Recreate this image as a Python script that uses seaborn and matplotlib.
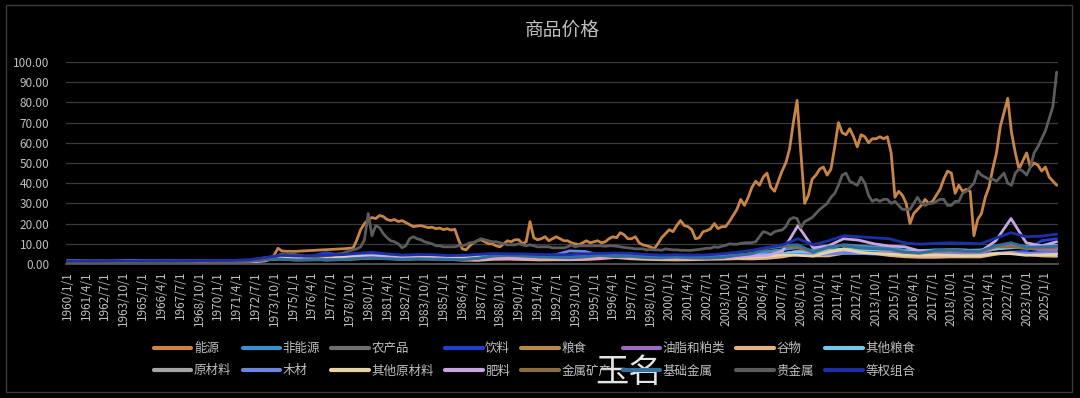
import pandas as pd
import matplotlib
matplotlib.use('Agg')
import matplotlib.pyplot as plt
from matplotlib.patches import Rectangle
import seaborn as sns

# 系列名称 / 颜色
names = ['能源', '非能源', '农产品', '饮料', '粮食', '油脂和粕类', '谷物', '其他粮食',
         '原材料', '木材', '其他原材料', '肥料', '金属矿产', '基础金属', '贵金属', '等权组合']
colors = ['#c98545', '#3a8fcf', '#6e6e6e', '#2140d0', '#b8894f', '#9b6bc4', '#e3b283', '#7ac6ea',
          '#a5a5a5', '#6d86e2', '#e8d2a6', '#c9a6e3', '#8c6d3f', '#2f6f9e', '#5c5c5c', '#1a2fa8']

# 能源 / 贵金属: 1960-1971 每年一个点, 1972/1 起按季度
early_years = list(range(1960, 1972))
energy_early = [1.4, 1.4, 1.4, 1.4, 1.3, 1.3, 1.3, 1.3, 1.3, 1.3, 1.3, 1.5]
precious_early = [1.0, 1.0, 1.0, 1.0, 1.0, 1.0, 1.0, 1.0, 1.2, 1.3, 1.1, 1.2]

energy_q = [
    1.6, 1.6, 1.7, 1.7, 1.8, 2.0, 2.2, 4.5,          # 1972-1973
    7.8, 6.5, 6.3, 6.3, 6.2, 6.3, 6.4, 6.5,          # 1974-1975
    6.6, 6.7, 6.8, 6.9, 7.0, 7.1, 7.2, 7.3,          # 1976-1977
    7.4, 7.5, 7.6, 7.8, 8.0, 12.0, 17.0, 20.0,       # 1978-1979
    22.0, 23.0, 22.5, 24.0, 23.5, 22.0, 21.5, 22.0,  # 1980-1981
    21.0, 21.5, 20.5, 19.5, 18.5, 18.8, 19.0, 18.5,  # 1982-1983
    18.0, 18.2, 17.5, 17.8, 17.0, 17.5, 16.8, 17.2,  # 1984-1985
    12.0, 7.5, 7.0, 9.0, 10.5, 11.5, 12.0, 11.0,     # 1986-1987
    10.0, 10.0, 9.0, 8.5, 10.0, 11.5, 11.0, 12.0,    # 1988-1989
    12.0, 10.0, 11.0, 21.0, 13.0, 12.0, 12.5, 13.5,  # 1990-1991
    11.5, 12.5, 13.5, 12.5, 11.5, 11.5, 10.5, 10.0,  # 1992-1993
    9.5, 10.5, 11.5, 10.5, 11.0, 11.5, 10.5, 11.0,   # 1994-1995
    12.5, 13.5, 13.0, 15.5, 14.5, 12.5, 12.5, 13.5,  # 1996-1997
    10.5, 9.5, 9.0, 8.5, 7.5, 10.0, 13.0, 15.0,      # 1998-1999
    17.0, 16.0, 19.0, 21.5, 19.0, 18.5, 17.0, 12.5,  # 2000-2001
    13.0, 16.0, 16.5, 17.5, 20.0, 17.5, 18.5, 18.5,  # 2002-2003
    21.0, 24.0, 27.0, 32.0, 29.0, 33.0, 38.0, 41.0,  # 2004-2005
    39.0, 43.0, 45.0, 38.0, 36.0, 41.0, 46.0, 50.0,  # 2006-2007
    57.0, 70.0, 81.0, 55.0, 30.0, 34.0, 42.0, 44.0,  # 2008-2009
    47.0, 48.0, 44.0, 47.0, 58.0, 70.0, 65.0, 64.0,  # 2010-2011
    67.0, 63.0, 58.0, 64.0, 63.0, 60.0, 62.0, 62.0,  # 2012-2013
    63.0, 62.0, 63.0, 55.0, 33.0, 36.0, 34.0, 30.0,  # 2014-2015
    20.0, 25.0, 27.0, 29.0, 32.0, 30.0, 31.0, 34.0,  # 2016-2017
    37.0, 42.0, 46.0, 45.0, 35.0, 39.0, 36.0, 37.0,  # 2018-2019
    36.0, 14.0, 22.0, 25.0, 33.0, 38.0, 47.0, 55.0,  # 2020-2021
    68.0, 75.0, 82.0, 65.0, 55.0, 47.0, 51.0, 55.0,  # 2022-2023
    48.0, 50.0, 49.0, 46.0, 48.0, 43.0, 41.0, 39.0,  # 2024-2025
]
precious_q = [
    1.4, 1.6, 1.9, 1.9, 2.3, 2.8, 3.5, 3.2,
    4.0, 5.0, 4.5, 5.0, 5.0, 4.5, 4.3, 3.8,
    3.8, 3.7, 3.5, 3.8, 4.0, 4.2, 4.2, 4.6,
    5.0, 5.2, 5.8, 6.5, 7.0, 7.5, 8.5, 12.0,
    25.0, 14.0, 19.0, 18.0, 15.0, 13.0, 11.5, 11.0,
    10.0, 8.0, 9.0, 12.5, 13.5, 12.5, 12.0, 11.0,
    10.5, 10.0, 9.0, 9.0, 8.5, 8.5, 8.5, 8.5,
    9.0, 9.0, 9.5, 10.5, 10.5, 11.5, 12.5, 12.0,
    11.5, 11.0, 11.0, 10.5, 10.0, 9.5, 9.5, 9.5,
    10.0, 9.5, 9.0, 9.5, 9.0, 8.5, 8.5, 8.5,
    8.5, 8.0, 8.0, 8.0, 8.0, 8.5, 9.5, 8.5,
    9.0, 9.0, 9.0, 9.0, 9.0, 9.0, 9.0, 8.8,
    9.0, 9.0, 8.8, 8.5, 8.2, 8.0, 7.8, 7.5,
    7.5, 7.5, 7.0, 7.2, 7.0, 7.0, 6.8, 7.5,
    7.2, 7.0, 7.0, 6.8, 6.8, 6.7, 6.8, 7.0,
    7.2, 7.5, 7.8, 7.8, 8.5, 8.2, 8.8, 9.2,
    10.0, 9.8, 9.8, 10.2, 10.5, 10.5, 10.6, 11.0,
    13.5, 16.0, 15.5, 14.5, 16.0, 16.5, 16.8, 18.5,
    22.0, 23.0, 22.5, 18.0, 21.0, 22.0, 23.0, 25.0,
    27.0, 28.5, 30.0, 33.0, 35.0, 39.0, 44.0, 45.0,
    41.0, 40.0, 39.0, 43.0, 40.0, 34.0, 31.0, 32.0,
    31.0, 32.0, 32.0, 30.0, 31.0, 29.0, 27.0, 27.0,
    27.0, 30.0, 33.0, 30.0, 29.0, 30.0, 30.0, 31.0,
    32.0, 32.0, 29.0, 29.0, 31.0, 31.0, 35.0, 36.0,
    38.0, 40.0, 46.0, 44.0, 43.0, 42.0, 42.0, 41.0,
    43.0, 45.0, 40.0, 39.0, 45.0, 47.0, 46.0, 44.0,
    48.0, 55.0, 58.0, 62.0, 66.0, 72.0, 78.0, 95.0,
]

# 其他系列: 1960-2025 每年一个点
years = list(range(1960, 2026))
nonenergy = [1.3, 1.3, 1.3, 1.3, 1.4, 1.4, 1.4, 1.4, 1.4, 1.5,
             1.5, 1.5, 1.7, 2.6, 3.4, 3.0, 3.1, 3.4, 3.4, 3.8,
             4.1, 3.7, 3.3, 3.5, 3.5, 3.2, 3.2, 3.6, 4.1, 4.1,
             4.0, 3.8, 3.7, 3.6, 4.0, 4.4, 4.3, 4.3, 3.8, 3.5,
             3.6, 3.4, 3.5, 3.8, 4.5, 5.1, 6.2, 7.1, 8.1, 6.6,
             8.0, 9.5, 8.9, 8.5, 8.1, 6.8, 6.6, 7.0, 7.1, 6.8,
             6.8, 8.9, 9.6, 8.6, 8.9, 9.2]
agri = [1.3, 1.3, 1.3, 1.3, 1.4, 1.4, 1.4, 1.4, 1.3, 1.4,
        1.4, 1.4, 1.7, 2.6, 3.4, 3.0, 3.1, 3.6, 3.4, 3.8,
        4.2, 3.8, 3.2, 3.5, 3.6, 3.1, 3.0, 3.1, 3.6, 3.6,
        3.5, 3.4, 3.4, 3.4, 3.9, 4.2, 4.2, 4.2, 3.7, 3.2,
        3.1, 3.0, 3.2, 3.4, 3.8, 3.9, 4.3, 5.1, 6.2, 5.6,
        6.2, 7.4, 7.5, 7.1, 6.8, 5.8, 5.9, 5.9, 5.8, 5.8,
        6.0, 7.4, 8.5, 8.1, 8.6, 8.3]
beverage = [1.2, 1.2, 1.2, 1.2, 1.4, 1.4, 1.4, 1.3, 1.3, 1.4,
            1.6, 1.5, 1.6, 2.0, 2.4, 2.3, 3.8, 5.6, 4.4, 4.6,
            4.4, 3.6, 3.5, 3.6, 4.0, 3.7, 4.4, 3.3, 3.2, 2.9,
            2.5, 2.4, 2.2, 2.3, 3.4, 3.6, 3.2, 4.3, 3.8, 3.1,
            2.8, 2.4, 2.6, 2.8, 3.0, 3.5, 3.7, 4.1, 4.8, 4.9,
            5.4, 6.5, 5.4, 4.7, 5.3, 5.1, 4.9, 4.6, 4.4, 4.2,
            4.6, 5.3, 5.9, 6.5, 11.5, 12.5]
food = [1.3, 1.3, 1.3, 1.3, 1.4, 1.4, 1.4, 1.4, 1.3, 1.3,
        1.4, 1.4, 1.7, 2.7, 3.9, 3.2, 3.0, 3.0, 3.1, 3.5,
        4.0, 3.8, 3.0, 3.3, 3.4, 2.9, 2.7, 2.8, 3.4, 3.4,
        3.2, 3.2, 3.3, 3.2, 3.6, 3.9, 4.2, 3.9, 3.5, 3.0,
        3.0, 3.0, 3.2, 3.4, 3.8, 3.8, 4.1, 5.0, 6.4, 5.6,
        6.0, 7.3, 7.5, 7.2, 6.7, 5.5, 5.6, 5.7, 5.6, 5.6,
        5.9, 7.5, 8.8, 8.0, 7.8, 7.6]
oils = [1.3, 1.3, 1.3, 1.3, 1.3, 1.4, 1.4, 1.3, 1.3, 1.3,
        1.4, 1.4, 1.6, 2.9, 3.8, 2.9, 2.8, 3.3, 3.2, 3.6,
        3.5, 3.4, 2.8, 3.3, 3.6, 2.9, 2.3, 2.7, 3.3, 3.1,
        2.9, 3.0, 3.0, 3.1, 3.3, 3.6, 3.9, 3.8, 3.4, 2.6,
        2.5, 2.5, 2.7, 3.2, 3.6, 3.3, 3.5, 4.6, 6.4, 5.4,
        5.9, 7.3, 7.8, 7.1, 6.4, 5.0, 5.3, 5.3, 5.0, 4.9,
        5.5, 7.9, 9.4, 7.9, 6.9, 7.0]
grains = [1.1, 1.1, 1.1, 1.1, 1.2, 1.2, 1.2, 1.2, 1.1, 1.1,
          1.2, 1.1, 1.3, 2.3, 3.2, 2.8, 2.5, 2.0, 2.2, 2.5,
          2.9, 2.9, 2.3, 2.6, 2.6, 2.3, 1.9, 1.8, 2.3, 2.4,
          2.2, 2.0, 2.1, 2.1, 2.2, 2.6, 3.2, 2.6, 2.3, 2.1,
          2.0, 2.1, 2.3, 2.4, 2.6, 2.5, 2.8, 3.5, 5.0, 4.0,
          4.0, 5.3, 5.6, 5.2, 4.2, 3.6, 3.3, 3.3, 3.5, 3.5,
          3.5, 4.8, 5.8, 4.8, 4.0, 3.8]
otherfood = [1.2, 1.2, 1.2, 1.3, 1.5, 1.4, 1.3, 1.3, 1.3, 1.3,
             1.4, 1.4, 1.6, 2.2, 3.8, 3.8, 3.3, 3.2, 3.1, 3.4,
             4.6, 4.2, 3.4, 3.6, 3.6, 3.1, 3.1, 3.1, 3.7, 3.8,
             3.7, 3.6, 3.6, 3.5, 4.0, 4.2, 4.3, 4.2, 4.0, 3.6,
             3.5, 3.5, 3.6, 3.7, 4.0, 4.4, 4.8, 5.2, 6.0, 5.7,
             6.8, 7.4, 7.0, 6.8, 6.8, 6.3, 6.5, 6.8, 6.6, 6.7,
             6.9, 7.5, 8.0, 8.4, 9.1, 9.0]
rawmat = [1.4, 1.4, 1.3, 1.3, 1.4, 1.4, 1.4, 1.4, 1.4, 1.5,
          1.5, 1.5, 1.8, 2.7, 3.0, 2.7, 3.0, 3.3, 3.3, 3.9,
          4.1, 3.7, 3.2, 3.5, 3.5, 3.1, 3.1, 3.5, 3.9, 4.0,
          3.9, 3.7, 3.6, 3.5, 3.8, 4.3, 4.0, 3.9, 3.4, 3.3,
          3.4, 3.2, 3.2, 3.5, 3.9, 3.9, 4.3, 4.6, 4.6, 4.2,
          5.3, 6.3, 5.4, 5.2, 5.2, 4.7, 4.6, 4.7, 4.7, 4.6,
          4.6, 5.3, 5.3, 4.9, 5.1, 5.3]
timber = [1.1, 1.1, 1.1, 1.2, 1.2, 1.2, 1.2, 1.2, 1.3, 1.4,
          1.4, 1.4, 1.6, 2.4, 2.6, 2.4, 2.7, 3.0, 3.2, 4.1,
          4.6, 4.0, 3.3, 3.8, 3.6, 3.3, 3.4, 3.7, 4.1, 4.2,
          4.2, 4.1, 4.4, 6.5, 6.2, 4.5, 4.3, 4.2, 3.8, 3.9,
          3.9, 3.7, 3.7, 4.1, 4.3, 4.3, 4.6, 4.6, 4.8, 4.5,
          5.0, 5.3, 5.1, 5.2, 5.4, 4.8, 4.7, 4.8, 5.0, 4.9,
          4.8, 5.3, 5.5, 5.4, 5.6, 5.7]
otherraw = [1.5, 1.4, 1.4, 1.4, 1.5, 1.5, 1.5, 1.4, 1.3, 1.4,
            1.4, 1.4, 1.8, 3.0, 3.2, 2.8, 3.1, 3.4, 3.3, 3.6,
            3.8, 3.5, 3.0, 3.1, 3.3, 2.9, 2.8, 3.2, 3.7, 3.7,
            3.5, 3.2, 2.9, 2.6, 3.0, 3.8, 3.6, 3.3, 2.8, 2.6,
            2.7, 2.5, 2.6, 2.9, 3.2, 3.3, 3.8, 4.5, 4.3, 3.9,
            5.8, 7.4, 5.8, 5.2, 4.9, 4.4, 4.3, 4.5, 4.3, 4.1,
            4.2, 5.2, 5.1, 4.3, 4.5, 4.8]
fertilizer = [1.0, 1.0, 1.0, 1.0, 1.0, 1.1, 1.1, 1.0, 0.9, 0.8,
              0.8, 0.8, 0.9, 1.5, 4.5, 3.9, 2.5, 2.4, 2.5, 3.0,
              3.6, 3.4, 2.9, 2.8, 3.0, 2.6, 2.3, 2.4, 2.9, 3.0,
              2.9, 3.0, 2.8, 2.4, 2.7, 3.1, 3.4, 3.2, 3.1, 2.8,
              2.7, 2.7, 2.6, 2.9, 3.4, 4.0, 4.3, 6.5, 19.0, 8.0,
              9.0, 12.5, 11.8, 10.0, 8.9, 8.5, 6.5, 6.3, 7.0, 6.9,
              6.2, 11.5, 22.5, 10.5, 9.0, 11.0]
minerals = [1.0, 1.0, 1.0, 1.0, 1.2, 1.4, 1.5, 1.4, 1.5, 1.6,
            1.6, 1.4, 1.4, 2.0, 2.4, 2.0, 2.1, 2.2, 2.2, 2.7,
            3.0, 2.6, 2.3, 2.5, 2.4, 2.3, 2.2, 2.8, 3.9, 4.2,
            3.9, 3.5, 3.4, 3.1, 3.5, 4.2, 3.7, 3.8, 3.1, 3.0,
            3.4, 3.0, 2.9, 3.2, 4.3, 5.2, 7.8, 8.8, 8.2, 5.8,
            8.1, 9.2, 8.0, 7.6, 7.2, 5.7, 5.3, 6.3, 6.7, 6.2,
            6.2, 8.4, 8.5, 7.7, 7.9, 8.2]
basemetal = [1.0, 1.0, 1.0, 1.0, 1.2, 1.5, 1.6, 1.4, 1.5, 1.6,
             1.6, 1.4, 1.4, 2.1, 2.5, 1.9, 2.0, 2.1, 2.1, 2.7,
             3.0, 2.6, 2.3, 2.5, 2.3, 2.3, 2.2, 2.8, 4.1, 4.4,
             4.0, 3.5, 3.4, 3.1, 3.6, 4.4, 3.8, 3.9, 3.2, 3.1,
             3.6, 3.1, 3.0, 3.3, 4.3, 5.1, 8.0, 9.2, 9.5, 5.9,
             8.4, 9.3, 8.0, 7.6, 7.5, 6.0, 5.5, 6.7, 7.1, 6.5,
             6.4, 9.1, 10.5, 8.3, 8.5, 8.8]
equalw = [1.5, 1.5, 1.5, 1.6, 1.6, 1.6, 1.6, 1.6, 1.6, 1.7,
          1.8, 1.8, 2.2, 3.2, 4.3, 4.0, 4.1, 4.4, 4.6, 5.3,
          5.8, 5.0, 4.4, 4.7, 4.6, 4.2, 4.3, 4.8, 5.2, 5.0,
          5.0, 4.7, 4.6, 4.6, 5.0, 5.3, 5.4, 5.3, 4.7, 4.4,
          4.6, 4.4, 4.5, 5.0, 5.8, 6.8, 8.2, 9.5, 12.5, 9.5,
          11.5, 14.0, 13.5, 13.0, 12.5, 10.5, 9.8, 10.2, 10.5, 10.3,
          10.0, 12.8, 15.5, 13.5, 13.8, 14.8]

# 组装长表
main_dates = (list(pd.to_datetime([f'{y}-01-01' for y in early_years]))
              + list(pd.date_range('1972-01-01', '2025-10-01', freq='QS')))
yearly_dates = list(pd.date_range('1960-01-01', '2025-10-01', periods=len(years)))

series = {
    '能源': (main_dates, energy_early + energy_q),
    '非能源': (yearly_dates, nonenergy),
    '农产品': (yearly_dates, agri),
    '饮料': (yearly_dates, beverage),
    '粮食': (yearly_dates, food),
    '油脂和粕类': (yearly_dates, oils),
    '谷物': (yearly_dates, grains),
    '其他粮食': (yearly_dates, otherfood),
    '原材料': (yearly_dates, rawmat),
    '木材': (yearly_dates, timber),
    '其他原材料': (yearly_dates, otherraw),
    '肥料': (yearly_dates, fertilizer),
    '金属矿产': (yearly_dates, minerals),
    '基础金属': (yearly_dates, basemetal),
    '贵金属': (main_dates, precious_early + precious_q),
    '等权组合': (yearly_dates, equalw),
}
frames = []
for name, (d, v) in series.items():
    frames.append(pd.DataFrame({'date': d, 'value': v, 'series': name}))
df = pd.concat(frames, ignore_index=True)

sns.set_theme(style='dark')
plt.rcParams['font.family'] = ['Noto Sans CJK SC', 'DejaVu Sans']
txt = '#bfbfbf'

fig = plt.figure(figsize=(10.8, 3.98), dpi=100, facecolor='black')
ax = fig.add_axes([0.0611, 0.3367, 0.9185, 0.5075])
ax.set_facecolor('black')

sns.lineplot(data=df, x='date', y='value', hue='series', hue_order=names,
             palette=dict(zip(names, colors)), linewidth=2.0, errorbar=None,
             ax=ax)

ax.set_ylim(0, 100)
ax.set_yticks(range(0, 101, 10))
ax.set_yticklabels([f'{v:.2f}' for v in range(0, 101, 10)], color=txt, fontsize=8.5)
ax.yaxis.grid(True, color='#3c3c3c', lw=0.9)
ax.xaxis.grid(False)
ax.set_xlim(pd.Timestamp('1959-12-01'), pd.Timestamp('2025-11-01'))

tick_dates = pd.date_range('1960-01-01', '2025-01-01', freq='15MS')
ax.set_xticks(tick_dates)
ax.set_xticklabels([f'{d.year}/{d.month}/1' for d in tick_dates], rotation=90,
                   color=txt, fontsize=8.5)
ax.tick_params(axis='x', length=3, color='#595959', pad=2)
ax.tick_params(axis='y', length=0, pad=12)
ax.set_xlabel('')
ax.set_ylabel('')
for s in ['top', 'right', 'left']:
    ax.spines[s].set_visible(False)
ax.spines['bottom'].set_color('#595959')

ax.set_title('商品价格', color=txt, fontsize=13.5, pad=19)

# 图例: 两行八列, 按行排列
handles, labels = ax.get_legend_handles_labels()
ax.get_legend().remove()
order = []
for c in range(8):
    order += [c, c + 8]
leg = fig.legend([handles[i] for i in order], [labels[i] for i in order],
                 loc='center', bbox_to_anchor=(0.495, 0.096), ncol=8, frameon=False,
                 fontsize=9, handlelength=3.0, handletextpad=0.2,
                 columnspacing=0.9, labelspacing=0.75)
for t in leg.get_texts():
    t.set_color(txt)
for h in leg.get_lines():
    h.set_linewidth(3)

# 水印
fig.text(0.582, 0.063, '玉名', color='white', fontsize=24, alpha=0.9,
         ha='center', va='center')

fig.patches.append(Rectangle((0.006, 0.015), 0.987, 0.972, transform=fig.transFigure,
                             fill=False, edgecolor='#3a3a3a', lw=1))

fig.savefig('out.png', dpi=100, facecolor='black')
